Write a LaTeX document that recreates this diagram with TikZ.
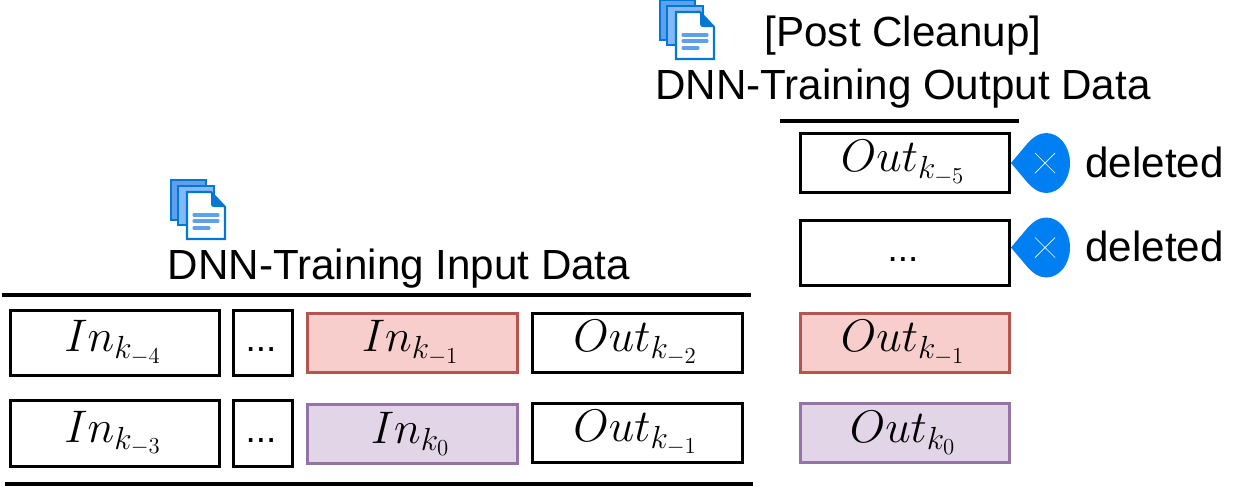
\documentclass[tikz,border=0pt]{standalone}
\usepackage{fix-cm}
\usepackage{amsmath}
\usepackage{fontspec}
\setmainfont{Liberation Sans}
\usetikzlibrary{arrows}
\definecolor{redfill}{HTML}{F8CECC}
\definecolor{redline}{HTML}{B85450}
\definecolor{purplefill}{HTML}{E1D5E7}
\definecolor{purpleline}{HTML}{9673A6}
\definecolor{pinblue}{HTML}{007FF3}
\definecolor{iconedge}{HTML}{0078D4}
\definecolor{iconback}{HTML}{5EA0EF}
\definecolor{iconmid}{HTML}{83B9F9}
\newcommand{\lowdots}{\raisebox{-5pt}[0pt][0pt]{...}\kern2.3pt}
\newcommand{\cell}[1]{$#1$\kern2.3pt}
\tikzset{
  databox/.style={draw=black, line width=1.7pt, inner sep=0pt, minimum height=37.5pt, minimum width=119.5pt, font=\fontsize{26}{30}\selectfont},
  thinbox/.style={databox, minimum height=34pt},
  dotbox/.style={databox, minimum width=34pt, font=\fontsize{21}{24}\selectfont},
  redbox/.style={thinbox, draw=redline, fill=redfill},
  purplebox/.style={thinbox, draw=purpleline, fill=purplefill},
  tablerule/.style={draw=black, line width=2pt},
  caption/.style={inner sep=0pt, font=\fontsize{24}{29}\selectfont},
  sidenote/.style={inner sep=0pt, anchor=west, font=\fontsize{24}{28}\selectfont},
  docicon/.pic={
    \draw[iconedge, fill=iconback, line width=1.2pt] (0,0) rectangle (35,40);
    \draw[iconedge, fill=iconmid, line width=1.2pt] (7,6) rectangle (43,45);
    \draw[iconedge, fill=white, line width=1.2pt] (16,12) -- (40,12) -- (54,27) -- (54,59) -- (16,59) -- cycle;
    \fill[iconedge] (40,12) -- (54,27) -- (43,27) .. controls (41,27) and (40,26) .. (40,24) -- cycle;
    \draw[iconback, line width=1.8pt, line cap=round] (23,35) -- (47,35) (23,41) -- (47,41) (23,48) -- (38,48);
  },
  droppin/.pic={
    \fill[pinblue] (0,0) -- (16,-19) .. controls (21,-25) and (28,-30) .. (35,-30)
      .. controls (49,-30) and (59,-16) .. (59,0)
      .. controls (59,16) and (49,30) .. (35,30)
      .. controls (28,30) and (21,25) .. (16,19) -- cycle;
    \draw[white, line width=0.4pt] (24,-10) -- (44,10) (24,10) -- (44,-10);
  },
}
\begin{document}
\begin{tikzpicture}[x=0.02cm, y=-0.02cm]
\useasboundingbox (0,0) rectangle (1242,495);

% icons, clipped at the top edge of the page
\begin{scope}
\clip (0,0) rectangle (1242,495);
\pic at (660,0) {docicon};
\end{scope}
\pic at (171,180) {docicon};

\node[caption] (post) at (903,36) {[Post Cleanup]};
\node[caption] (outtitle) at (903,89) {DNN-Training Output Data};
\node[caption] (intitle) at (399,269) {DNN-Training Input Data};

\coordinate (r1a) at (2,295);
\coordinate (r1b) at (751,295);
\coordinate (r2a) at (5,484);
\coordinate (r2b) at (753,484);
\coordinate (r3a) at (780,121);
\coordinate (r3b) at (1019,121);

% left table
\node[databox] (ink4) at (115,343) {\cell{In_{k_{-4}}}};
\node[dotbox] (dots1) at (263,343) {\lowdots};
\node[redbox] (ink1) at (412.5,343) {\cell{In_{k_{-1}}}};
\node[thinbox] (outk2) at (637.5,343) {\cell{Out_{k_{-2}}}};
\node[databox] (ink3) at (115,433.5) {\cell{In_{k_{-3}}}};
\node[dotbox] (dots2) at (263,433.5) {\lowdots};
\node[purplebox] (ink0) at (412.5,434) {\cell{In_{k_0}}};
\node[thinbox] (outk1) at (637.5,433) {\cell{Out_{k_{-1}}}};

% right column
\node[thinbox] (outk5) at (905,163) {\cell{Out_{k_{-5}}}};
\node[databox, font=\fontsize{21}{24}\selectfont] (dots3) at (905,253) {\lowdots};
\node[redbox] (routk1) at (905,343) {\cell{Out_{k_{-1}}}};
\node[purplebox] (routk0) at (905,433) {\cell{Out_{k_0}}};

\pic at (1011,163) {droppin};
\pic at (1011,247.5) {droppin};
\node[sidenote] (del1) at (1085,162) {deleted};
\node[sidenote] (del2) at (1085,246) {deleted};

\draw[tablerule] (r1a) -- (r1b);
\draw[tablerule] (r2a) -- (r2b);
\draw[tablerule] (r3a) -- (r3b);
\end{tikzpicture}
\end{document}
